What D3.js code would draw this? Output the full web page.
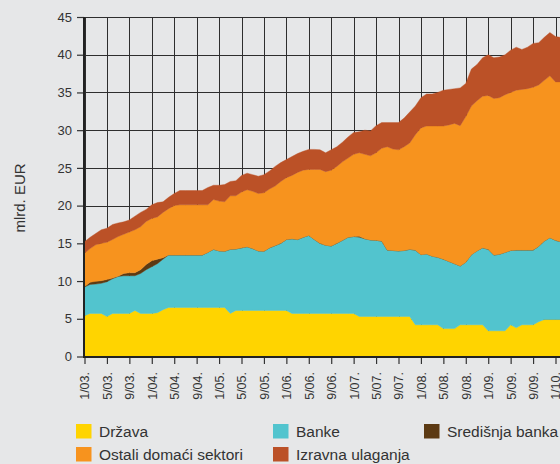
<!DOCTYPE html>
<html>
<head>
<meta charset="utf-8">
<script src="https://cdn.jsdelivr.net/npm/d3@7"></script>
<style>
  html, body { margin: 0; padding: 0; background: #e6e7e8; }
  svg { display: block; font-family: "Liberation Sans", Arial, sans-serif; }
</style>
</head>
<body>
<svg id="chart" width="560" height="464"></svg>
<script>
// Monthly observations, 1/03. to 2/10.
const months = [
  "1/03.","2/03.","3/03.","4/03.","5/03.","6/03.","7/03.","8/03.","9/03.","10/03.","11/03.","12/03.",
  "1/04.","2/04.","3/04.","4/04.","5/04.","6/04.","7/04.","8/04.","9/04.","10/04.","11/04.","12/04.",
  "1/05.","2/05.","3/05.","4/05.","5/05.","6/05.","7/05.","8/05.","9/05.","10/05.","11/05.","12/05.",
  "1/06.","2/06.","3/06.","4/06.","5/06.","6/06.","7/06.","8/06.","9/06.","10/06.","11/06.","12/06.",
  "1/07.","2/07.","3/07.","4/07.","5/07.","6/07.","7/07.","8/07.","9/07.","10/07.","11/07.","12/07.",
  "1/08.","2/08.","3/08.","4/08.","5/08.","6/08.","7/08.","8/08.","9/08.","10/08.","11/08.","12/08.",
  "1/09.","2/09.","3/09.","4/09.","5/09.","6/09.","7/09.","8/09.","9/09.","10/09.","11/09.","12/09.",
  "1/10.","2/10."
];

const tickLabels = [
  "1/03.","5/03.","9/03.","1/04.","5/04.","9/04.","1/05.","5/05.","9/05.","1/06.","5/06.",
  "9/06.","1/07.","5/07.","9/07.","1/08.","5/08.","9/08.","1/09.","5/09.","9/09.","1/10."
];

const yTicks = [0, 5, 10, 15, 20, 25, 30, 35, 40, 45];

// mlrd. EUR per sector
const drzava = [
  5.4,5.7,5.7,5.7,5.3,5.7,5.7,5.7,5.7,6.1,5.7,5.7,
  5.7,5.8,6.2,6.5,6.5,6.5,6.5,6.5,6.5,6.5,6.5,6.5,
  6.5,6.5,5.7,6.1,6.1,6.1,6.1,6.1,6.1,6.1,6.1,6.1,
  6.1,5.7,5.7,5.7,5.7,5.7,5.7,5.7,5.7,5.7,5.7,5.7,
  5.7,5.3,5.3,5.3,5.3,5.3,5.3,5.3,5.3,5.3,5.3,4.2,
  4.2,4.2,4.2,4.2,3.7,3.7,3.7,4.2,4.2,4.2,4.2,4.2,
  3.4,3.4,3.4,3.4,4.2,3.8,4.2,4.2,4.2,4.6,4.9,4.9,
  4.9,4.9
];
const banke = [
  3.8,3.85,3.9,4.0,4.6,4.6,4.9,5.0,5.0,4.6,5.3,5.8,
  6.2,6.5,6.7,6.95,6.95,6.95,6.95,6.95,6.95,6.95,7.3,7.7,
  7.5,7.45,8.5,8.15,8.3,8.45,8.2,7.9,7.85,8.3,8.6,8.9,
  9.4,9.9,9.8,10.1,10.35,9.8,9.3,9.05,8.95,9.3,9.7,10.1,
  10.2,10.5,10.3,10.15,10.1,10.0,8.8,8.75,8.7,8.75,8.9,9.9,
  9.3,9.4,9.1,8.95,9.2,8.9,8.6,7.8,8.3,9.3,9.8,10.2,
  10.8,10.05,10.15,10.4,9.85,10.3,9.9,9.9,9.9,10.0,10.4,10.85,
  10.5,10.3
];
const sredisnjaBanka = [
  0.05,0.3,0.35,0.35,0.3,0.1,0.05,0.3,0.4,0.4,0.5,0.7,
  0.8,0.6,0.2,0,0,0,0,0,0,0,0,0,
  0,0,0,0,0,0,0,0,0,0,0,0,
  0,0,0,0,0,0,0,0,0,0,0,0,
  0,0.15,0,0,0,0,0,0,0,0,0,0,
  0,0,0,0,0,0,0,0,0,0,0,0,
  0,0,0,0,0,0,0,0,0,0,0,0,
  0,0
];
const ostaliSektori = [
  4.45,4.45,4.85,4.95,4.95,5.1,5.25,5.2,5.4,5.7,5.7,5.7,
  5.6,5.6,6.0,6.15,6.55,6.65,6.65,6.65,6.65,6.65,6.3,6.6,
  6.6,6.55,7.1,7.05,7.4,7.55,7.6,7.6,7.75,7.8,7.9,8.2,
  8.2,8.4,8.9,8.9,8.75,9.3,9.8,9.75,10.05,10.2,10.4,10.5,
  10.9,11.05,11.2,11.15,11.6,12.3,13.7,13.45,13.4,13.75,14.1,15.3,
  16.8,16.95,17.25,17.4,17.65,18.1,18.6,18.6,19.3,19.7,19.9,20.1,
  20.4,20.75,20.75,20.9,20.95,21.2,21.3,21.4,21.6,21.4,21.3,21.45,
  21.0,21.2
];
const izravnaUlaganja = [
  1.5,1.5,1.5,1.8,1.85,2.0,1.8,1.65,1.6,1.8,1.9,1.6,
  1.8,1.9,1.4,1.5,1.6,1.9,1.9,1.9,1.9,1.9,2.3,1.9,
  2.1,2.3,1.9,2.0,2.2,2.2,2.2,2.3,2.4,2.4,2.6,2.5,
  2.4,2.5,2.5,2.5,2.65,2.65,2.6,2.5,2.7,2.6,2.6,2.8,
  2.9,2.8,3.2,3.3,3.6,3.4,3.2,3.5,3.6,3.8,4.1,3.8,
  4.0,4.25,4.25,4.45,4.75,4.7,4.6,5.0,4.4,4.9,4.8,5.1,
  5.4,5.4,5.4,5.3,5.6,5.7,5.3,5.5,5.8,5.6,5.7,5.75,
  6.0,5.9
];

const seriesNames = ["Država", "Banke", "Središnja banka", "Ostali domaći sektori", "Izravna ulaganja"];
const seriesColors = ["#ffd400", "#52c4ce", "#5c3a13", "#f7931e", "#bb5127"];
const seriesValues = [drzava, banke, sredisnjaBanka, ostaliSektori, izravnaUlaganja];

const rows = months.map((m, i) => {
  const r = { idx: i, label: m };
  seriesNames.forEach((s, j) => { r[s] = seriesValues[j][i]; });
  return r;
});

const svg = d3.select("#chart");
const W = 560, H = 464;

const x = d3.scaleLinear().domain([0, 84]).range([84.5, 555.5]);
const y = d3.scaleLinear().domain([0, 45]).range([356.5, 17]);
const plotRight = W + 10;

const crisp = v => Math.round(v) + 0.5;

// grid
const grid = svg.append("g");
grid.selectAll("line.h").data(yTicks).join("line")
  .attr("x1", x(0)).attr("x2", plotRight)
  .attr("y1", d => crisp(y(d))).attr("y2", d => crisp(y(d)))
  .attr("stroke", "#2e2e2e").attr("stroke-width", 1);
grid.selectAll("line.v").data(tickLabels).join("line")
  .attr("x1", d => crisp(x(months.indexOf(d)))).attr("x2", d => crisp(x(months.indexOf(d))))
  .attr("y1", y(45)).attr("y2", y(0))
  .attr("stroke", "#2e2e2e").attr("stroke-width", 1);

// stacked areas
const stack = d3.stack().keys(seriesNames);
const layers = stack(rows);
const area = d3.area()
  .x(d => x(d.data.idx))
  .y0(d => y(d[0]))
  .y1(d => y(d[1]));

svg.append("g").selectAll("path").data(layers).join("path")
  .attr("d", area)
  .attr("fill", (d, i) => seriesColors[i])
  .attr("stroke", (d, i) => seriesColors[i])
  .attr("stroke-width", 0.4);

// axes
const yAxis = d3.axisLeft(y).tickValues(yTicks).tickSize(7).tickPadding(5);
const gy = svg.append("g").attr("transform", "translate(84,0)").call(yAxis);
gy.select(".domain").remove();
gy.selectAll(".tick line").attr("stroke", "#333").attr("stroke-width", 1.2);
gy.selectAll(".tick text").attr("fill", "#333").style("font-size", "13px");

const xAxis = d3.axisBottom(x)
  .tickValues(tickLabels.map(t => months.indexOf(t)))
  .tickFormat(i => months[i])
  .tickSize(7).tickPadding(4);
const gx = svg.append("g").attr("transform", "translate(0,357)").call(xAxis);
gx.select(".domain").remove();
gx.selectAll(".tick line").attr("stroke", "#333").attr("stroke-width", 1.2);
gx.selectAll(".tick text")
  .attr("fill", "#333").style("font-size", "12.5px")
  .attr("text-anchor", "end")
  .attr("transform", "rotate(-90)")
  .attr("x", -15).attr("y", 0).attr("dy", "0.35em");

// axis lines
svg.append("line").attr("x1", 84).attr("x2", 84).attr("y1", y(45)).attr("y2", 358)
  .attr("stroke", "#222").attr("stroke-width", 2);
svg.append("line").attr("x1", 83).attr("x2", plotRight).attr("y1", 357).attr("y2", 357)
  .attr("stroke", "#222").attr("stroke-width", 2);

// y axis title
svg.append("text")
  .attr("transform", "translate(25,198) rotate(-90)")
  .attr("text-anchor", "middle")
  .attr("fill", "#333")
  .style("font-size", "15px")
  .text("mlrd. EUR");

// legend
const legendPos = [
  { x: 76, y: 424 }, { x: 273, y: 424 }, { x: 424, y: 424 },
  { x: 76, y: 447 }, { x: 273, y: 447 }
];
const lg = svg.append("g").selectAll("g").data(seriesNames).join("g")
  .attr("transform", (d, i) => `translate(${legendPos[i].x},${legendPos[i].y})`);
lg.append("rect").attr("width", 15.5).attr("height", 14.5)
  .attr("fill", (d, i) => seriesColors[i]);
lg.append("text").attr("x", 23).attr("y", 13)
  .attr("fill", "#333").style("font-size", "15.5px")
  .text(d => d);
</script>
</body>
</html>
